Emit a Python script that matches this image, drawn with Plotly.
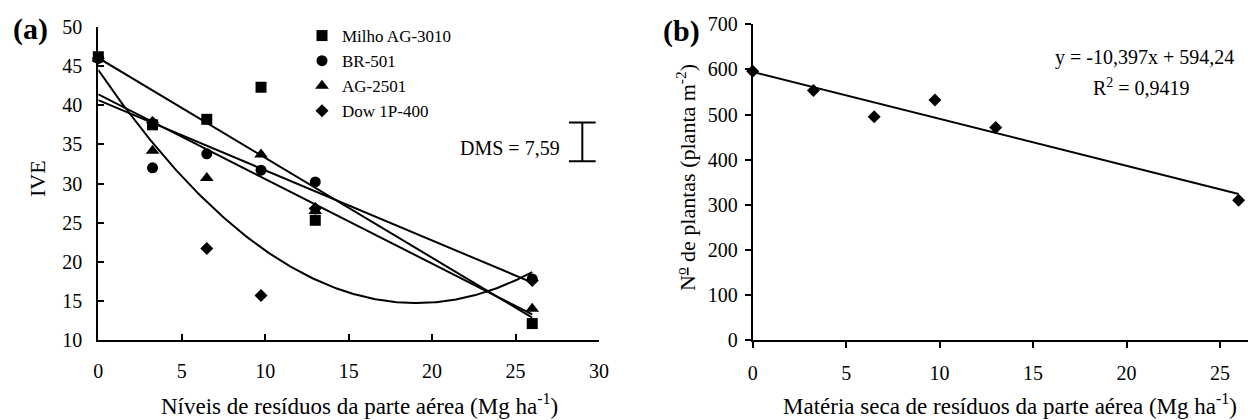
import numpy as np
import plotly.graph_objects as go

# ---------------- data ----------------
residue_levels = [0, 3.25, 6.5, 9.75, 13, 26]          # Mg ha-1
ive_milho_ag3010 = [46.2, 37.5, 38.2, 42.3, 25.3, 12.1]
ive_br501 = [46.0, 32.0, 33.8, 31.7, 30.2, 17.8]
ive_ag2501 = [46.0, 34.2, 30.7, 33.7, 26.5, 14.0]
ive_dow1p400 = [46.0, 37.8, 21.7, 15.7, 26.8, 17.6]
series_names = ["Milho AG-3010", "BR-501", "AG-2501", "Dow 1P-400"]
fit_degree = [1, 1, 1, 2]

plants_x = [0, 3.25, 6.5, 9.75, 13, 26]
plants_m2 = [596, 553, 495, 532, 471, 310]
plants_slope = -10.397
plants_intercept = 594.24

a_xticks = [0, 5, 10, 15, 20, 25, 30]
a_yticks = [10, 15, 20, 25, 30, 35, 40, 45, 50]
b_xticks = [0, 5, 10, 15, 20, 25]
b_yticks = [0, 100, 200, 300, 400, 500, 600, 700]

W, H = 1248, 420
FONT = "Liberation Serif, Times New Roman, serif"

def px_x(p):
    return p / W

def px_y(p):
    return 1 - p / H

fig = go.Figure()

symbols = ["square", "circle", "triangle-up", "diamond"]
sizes = [11, 11, 12, 10]
all_series = [ive_milho_ag3010, ive_br501, ive_ag2501, ive_dow1p400]

xfit = np.linspace(min(residue_levels), max(residue_levels), 200)
for name, ys, deg in zip(series_names, all_series, fit_degree):
    coef = np.polyfit(residue_levels, ys, deg)
    fig.add_trace(go.Scatter(
        x=xfit, y=np.polyval(coef, xfit), mode="lines",
        line=dict(color="black", width=2), showlegend=False,
        hoverinfo="skip", xaxis="x", yaxis="y", cliponaxis=False))

for i, (name, ys) in enumerate(zip(series_names, all_series)):
    fig.add_trace(go.Scatter(
        x=residue_levels, y=ys, mode="markers", name=name,
        marker=dict(symbol=symbols[i], size=sizes[i], color="black"),
        xaxis="x", yaxis="y", cliponaxis=False))

# panel b
xb = np.array([min(plants_x), max(plants_x)])
fig.add_trace(go.Scatter(
    x=xb, y=plants_slope * xb + plants_intercept, mode="lines",
    line=dict(color="black", width=2), showlegend=False,
    xaxis="x2", yaxis="y2", cliponaxis=False))
fig.add_trace(go.Scatter(
    x=plants_x, y=plants_m2, mode="markers", showlegend=False,
    marker=dict(symbol="diamond", size=10, color="black"),
    xaxis="x2", yaxis="y2", cliponaxis=False))

axis_common = dict(showline=True, linecolor="black", linewidth=2,
                   showgrid=False, zeroline=False, ticks="outside",
                   tickcolor="black", tickwidth=2, ticklen=6, automargin=False,
                   tickfont=dict(family=FONT, size=20, color="black"))

fig.update_layout(
    template="none",
    width=W, height=H,
    margin=dict(l=0, r=0, t=0, b=0, pad=0),
    paper_bgcolor="white", plot_bgcolor="white",
    font=dict(family=FONT, color="black"),
    xaxis=dict(axis_common, domain=[px_x(98.3), px_x(599)], range=[0, 30],
               tickvals=a_xticks, ticks="inside", ticklen=6,
               ticklabelstandoff=12, anchor="y"),
    yaxis=dict(axis_common, domain=[px_y(340), px_y(27)], range=[10, 50],
               tickvals=a_yticks, ticks="inside", ticklen=6,
               ticklabelstandoff=10, anchor="x"),
    xaxis2=dict(axis_common, domain=[px_x(752.7), 1.0], range=[0, 26.5],
                tickvals=b_xticks, ticklabelstandoff=8, anchor="y2"),
    yaxis2=dict(axis_common, domain=[px_y(340), px_y(24.3)], range=[0, 700],
                tickvals=b_yticks, ticklabelstandoff=3, anchor="x2"),
    showlegend=True,
    legend=dict(x=px_x(302), y=px_y(18), xanchor="left", yanchor="top",
                font=dict(family=FONT, size=17, color="black"),
                bgcolor="rgba(0,0,0,0)", borderwidth=0, itemwidth=30,
                tracegroupgap=0),
)

def add_text(text, x, y, size, angle=0, xref="paper", yref="paper", xanchor="center"):
    fig.add_annotation(text=text, x=x, y=y, xref=xref, yref=yref,
                       xanchor=xanchor, yanchor="middle", textangle=angle,
                       showarrow=False, font=dict(family=FONT, size=size, color="black"))

add_text("<b>(a)</b>", px_x(31), px_y(29), 30)
add_text("<b>(b)</b>", px_x(682), px_y(31), 30)
add_text("IVE", px_x(37), px_y(179), 22, angle=-90)
add_text("Níveis de resíduos da parte aérea (Mg ha<sup>-1</sup>)", px_x(359), px_y(404), 23)
add_text("N<sup><u>o</u></sup> de plantas (planta m<sup>-2</sup>)", px_x(686), px_y(178), 22, angle=-90)
add_text("Matéria seca de resíduos da parte aérea (Mg ha<sup>-1</sup>)", px_x(1010), px_y(404), 23)
add_text("y = -10,397x + 594,24", px_x(1144), px_y(58), 20)
add_text("R<sup>2</sup> = 0,9419", px_x(1141), px_y(87), 20)
add_text("DMS = 7,59", 27.8, 34.55, 20, xref="x", yref="y", xanchor="right")

# DMS bar
line_style = dict(color="black", width=2)
fig.add_shape(type="line", xref="x", yref="y", x0=29.0, x1=29.0, y0=32.85, y1=37.8, line=line_style)
fig.add_shape(type="line", xref="x", yref="y", x0=28.2, x1=29.8, y0=32.85, y1=32.85, line=line_style)
fig.add_shape(type="line", xref="x", yref="y", x0=28.2, x1=29.8, y0=37.8, y1=37.8, line=line_style)

fig.write_html("out.html", config={"displayModeBar": False},
               post_script="document.body.style.margin='0';document.body.style.overflow='hidden';")
